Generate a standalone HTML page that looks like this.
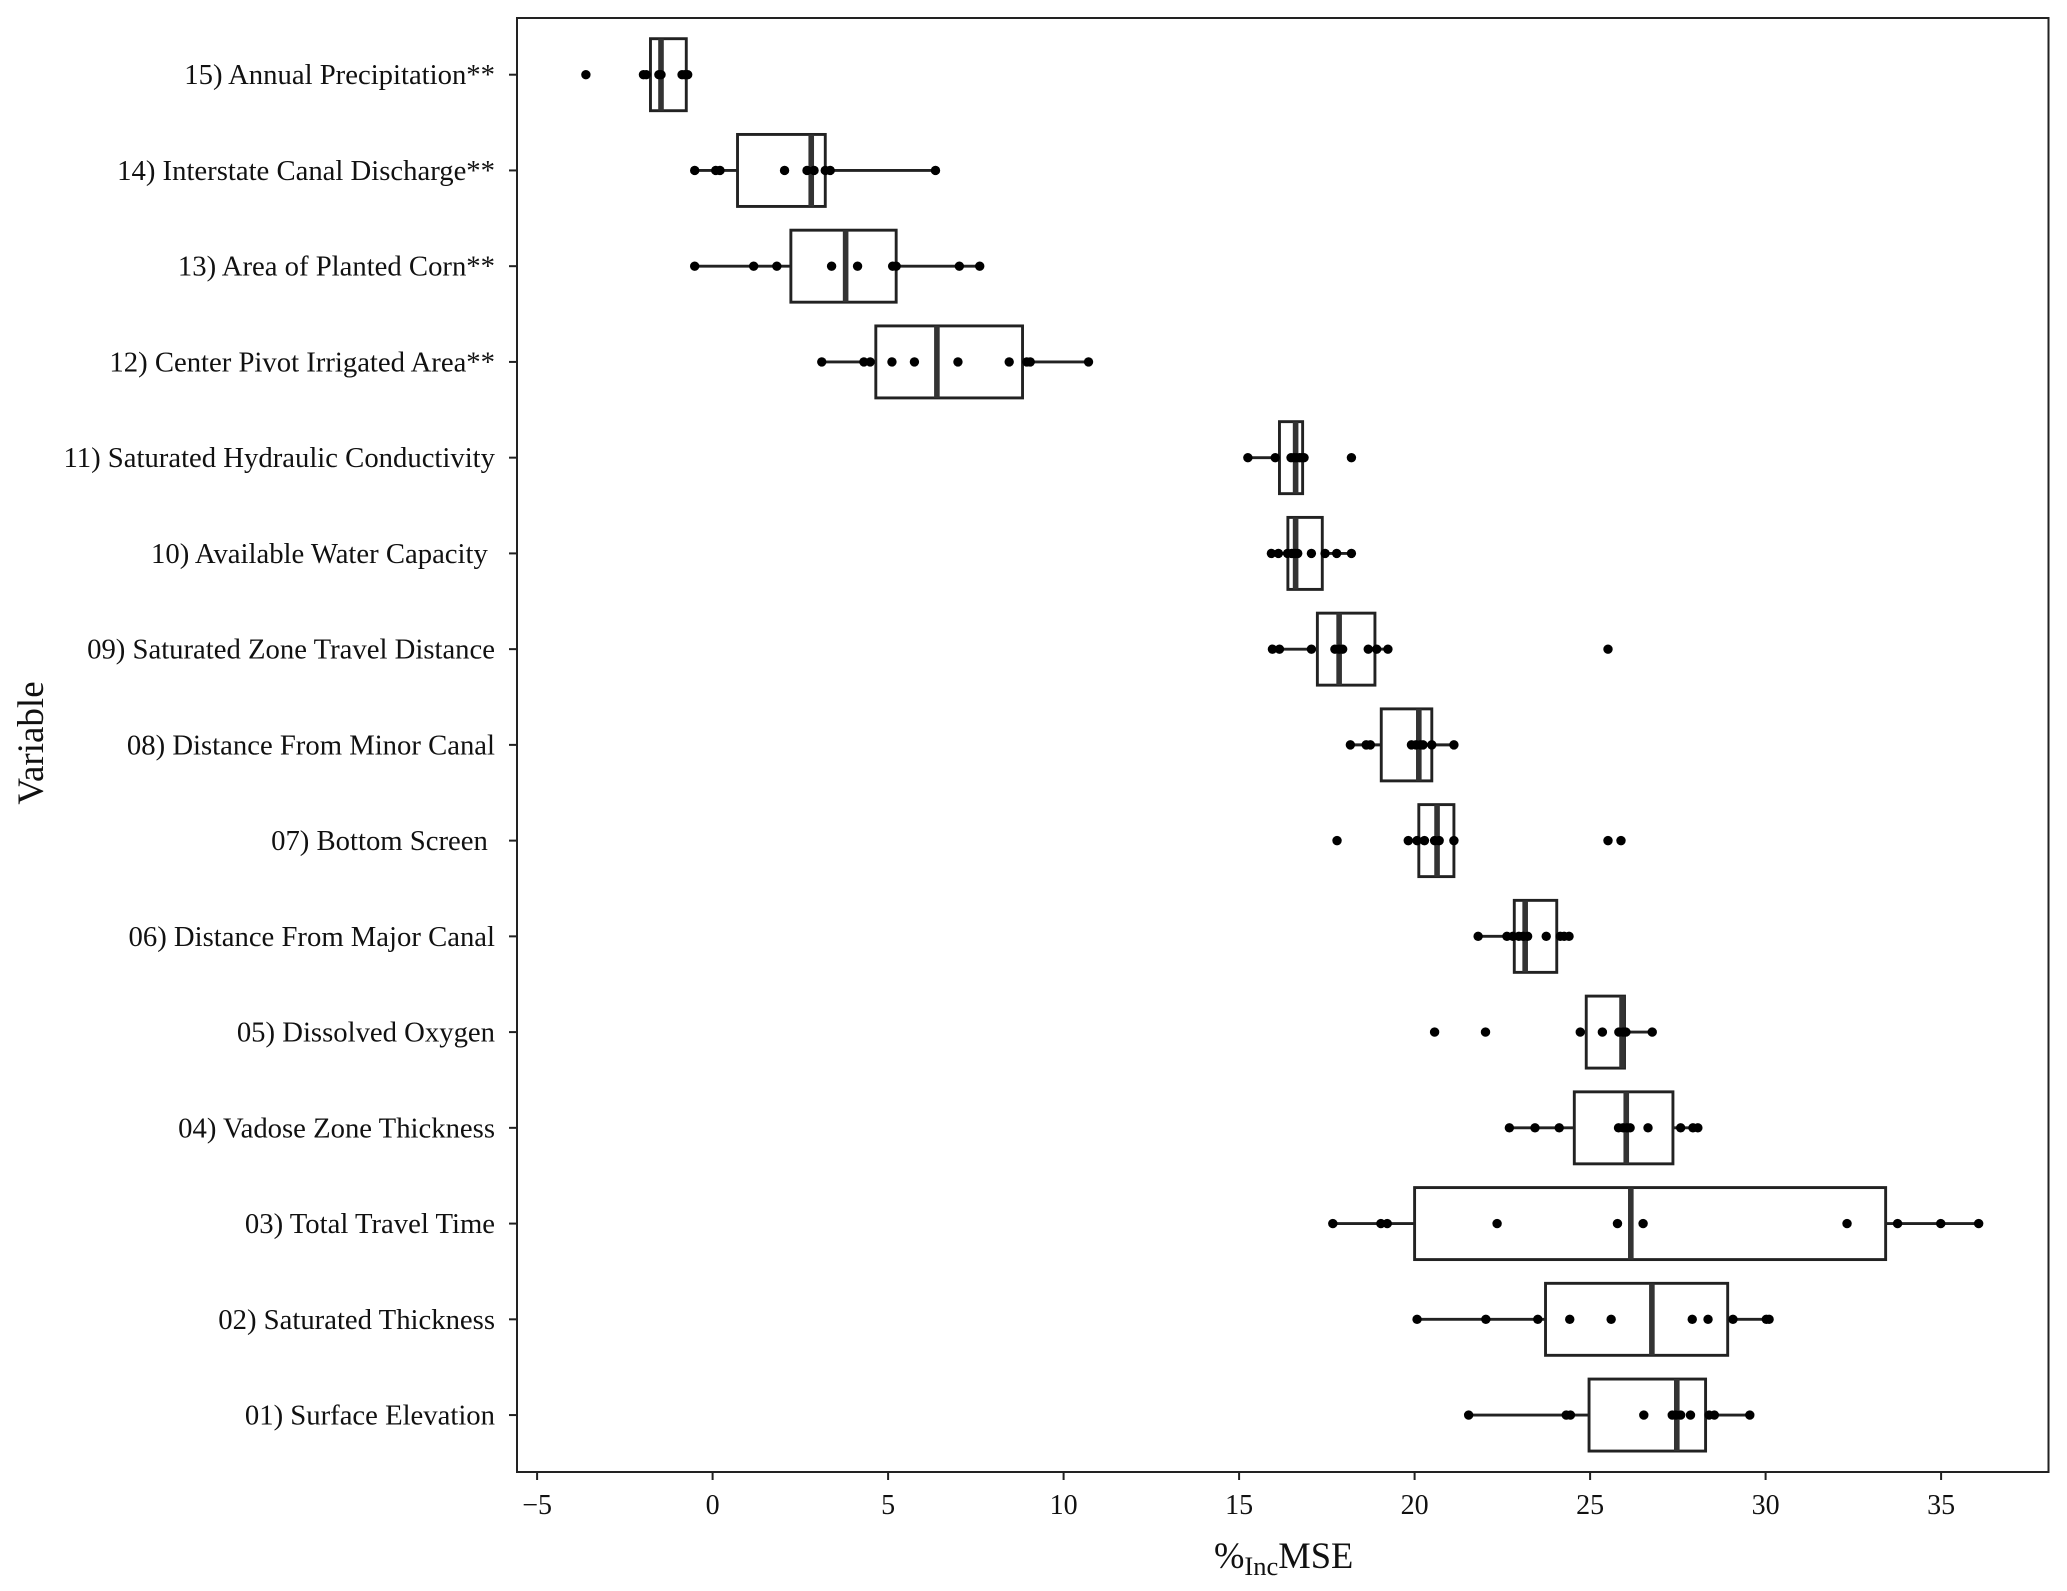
<!DOCTYPE html>
<html lang="en">
<head>
<meta charset="utf-8">
<title>%IncMSE variable importance box plot</title>
<style>
html,body{margin:0;padding:0;background:#fff;width:2067px;height:1591px;overflow:hidden}
svg{display:block}
text{font-family:"Liberation Serif","Times New Roman",serif;fill:#111}
</style>
</head>
<body>
<svg id="chart" xmlns="http://www.w3.org/2000/svg" width="2067" height="1591" viewBox="0 0 2067 1591">
<rect x="0" y="0" width="2067" height="1591" fill="#fff"></rect>
<g id="marks"></g>
<g id="axes"></g>
<rect x="517" y="18" width="1531.5" height="1454" fill="none" stroke="#222" stroke-width="2"></rect>
<text x="1214" y="1568" font-size="36.5">%<tspan font-size="26.5" dy="7">Inc</tspan><tspan dy="-7">MSE</tspan></text>
<text transform="translate(43 743) rotate(-90)" text-anchor="middle" font-size="37">Variable</text>
</svg>
<script>
const categories = [
  "15) Annual Precipitation**",
  "14) Interstate Canal Discharge**",
  "13) Area of Planted Corn**",
  "12) Center Pivot Irrigated Area**",
  "11) Saturated Hydraulic Conductivity",
  "10) Available Water Capacity ",
  "09) Saturated Zone Travel Distance",
  "08) Distance From Minor Canal",
  "07) Bottom Screen ",
  "06) Distance From Major Canal",
  "05) Dissolved Oxygen",
  "04) Vadose Zone Thickness",
  "03) Total Travel Time",
  "02) Saturated Thickness",
  "01) Surface Elevation"
];
const q1Values = [-1.77, 0.71, 2.23, 4.65, 16.15, 16.39, 17.23, 19.05, 20.12, 22.84, 24.89, 24.55, 20.0, 23.73, 24.97];
const medianValues = [-1.47, 2.81, 3.79, 6.39, 16.61, 16.61, 17.85, 20.12, 20.64, 23.15, 25.91, 26.03, 26.16, 26.76, 27.47];
const q3Values = [-0.75, 3.21, 5.23, 8.83, 16.81, 17.37, 18.87, 20.49, 21.12, 24.05, 25.98, 27.36, 33.42, 28.92, 28.29];
const whiskerLowValues = [-1.97, -0.51, -0.51, 3.11, 15.25, 15.92, 15.95, 18.17, 19.82, 21.81, 24.72, 22.70, 17.67, 20.07, 21.54];
const whiskerHighValues = [-0.71, 6.35, 7.61, 10.71, 16.85, 18.20, 19.24, 21.12, 21.12, 24.40, 26.77, 28.07, 36.07, 30.10, 29.55];
const pointValues = [
  [-3.61, -1.97, -1.89, -1.53, -1.47, -0.87, -0.79, -0.71],
  [-0.51, 0.09, 0.21, 2.05, 2.69, 2.89, 3.21, 3.35, 6.35],
  [-0.51, 1.17, 1.83, 3.39, 4.13, 5.13, 5.23, 7.03, 7.61],
  [3.11, 4.31, 4.49, 5.11, 5.75, 6.99, 8.45, 8.95, 9.05, 10.71],
  [15.25, 16.03, 16.48, 16.56, 16.63, 16.72, 16.78, 16.85, 18.20],
  [15.92, 16.12, 16.38, 16.50, 16.59, 16.67, 17.06, 17.45, 17.78, 18.20],
  [15.95, 16.15, 17.06, 17.73, 17.85, 17.95, 18.68, 18.92, 19.24, 25.51],
  [18.17, 18.62, 18.74, 19.91, 20.04, 20.17, 20.24, 20.49, 21.12],
  [17.79, 19.82, 20.07, 20.28, 20.57, 20.70, 21.12, 25.51, 25.88],
  [21.81, 22.63, 22.80, 22.97, 23.09, 23.22, 23.75, 24.15, 24.26, 24.40],
  [20.57, 22.02, 24.72, 25.35, 25.82, 25.94, 26.02, 26.77],
  [22.70, 23.43, 24.12, 25.81, 25.94, 26.05, 26.14, 26.65, 27.58, 27.93, 28.07],
  [17.67, 19.04, 19.22, 22.35, 25.78, 26.51, 32.32, 33.76, 34.99, 36.07],
  [20.07, 22.03, 23.51, 24.42, 25.60, 27.91, 28.36, 29.07, 30.02, 30.10],
  [21.54, 24.32, 24.44, 26.53, 27.34, 27.44, 27.58, 27.86, 28.39, 28.54, 29.55]
];
const xTickValues = [-5, 0, 5, 10, 15, 20, 25, 30, 35];

const SVG_NS = "http://www.w3.org/2000/svg";
const xScale = function (v) { return 712.6 + 35.1 * v; };
const yScale = function (i) { return 74.7 + 95.74 * i; };
const BOX_HALF = 36;
const INK = "#222";
const LINE_W = 2.9;
const marks = document.getElementById("marks");
const axes = document.getElementById("axes");

function make(parent, tag, attrs) {
  const el = document.createElementNS(SVG_NS, tag);
  Object.keys(attrs).forEach(function (k) { el.setAttribute(k, attrs[k]); });
  parent.appendChild(el);
  return el;
}

categories.forEach(function (cat, i) {
  const y = yScale(i);
  const group = make(marks, "g", {});
  
  

  const low = make(group, "line", { x1: xScale(whiskerLowValues[i]), x2: xScale(q1Values[i]), y1: y, y2: y, stroke: INK, "stroke-width": LINE_W });
  
  

  const high = make(group, "line", { x1: xScale(q3Values[i]), x2: xScale(whiskerHighValues[i]), y1: y, y2: y, stroke: INK, "stroke-width": LINE_W });
  
  

  const box = make(group, "rect", { x: xScale(q1Values[i]), y: y - BOX_HALF, width: xScale(q3Values[i]) - xScale(q1Values[i]), height: BOX_HALF * 2, fill: "none", stroke: INK, "stroke-width": LINE_W });
  
  

  const med = make(group, "line", { x1: xScale(medianValues[i]), x2: xScale(medianValues[i]), y1: y - BOX_HALF, y2: y + BOX_HALF, stroke: "#333", "stroke-width": 5.6 });
  
  

  pointValues[i].forEach(function (v) {
    const dot = make(group, "circle", { cx: xScale(v), cy: y, r: 4.7, fill: "#000" });
    
    
  });

  const tick = make(axes, "line", { x1: 509, x2: 517, y1: y, y2: y, stroke: "#222", "stroke-width": 2 });
  
  

  const label = make(axes, "text", { x: 495, y: y + 9.5, "text-anchor": "end", "font-size": 28.7 });
  
  
  label.setAttribute('xml:space', 'preserve');
  label.style.whiteSpace = "pre";
  label.textContent = cat;
});

xTickValues.forEach(function (v) {
  const x = xScale(v);
  const tick = make(axes, "line", { x1: x, x2: x, y1: 1472, y2: 1480, stroke: "#222", "stroke-width": 2 });
  
  

  const label = make(axes, "text", { x: x, y: 1514, "text-anchor": "middle", "font-size": 28 });
  
  
  label.textContent = v < 0 ? "\u2212" + Math.abs(v) : String(v);
});
</script>
</body>
</html>
